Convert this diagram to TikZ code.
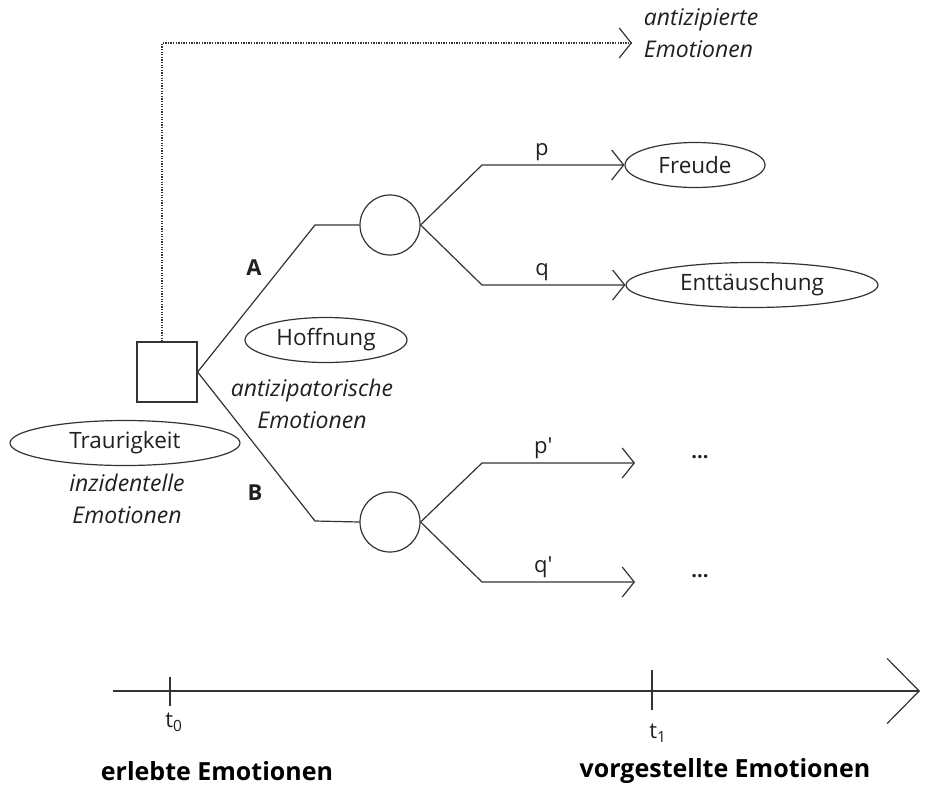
\documentclass[tikz,border=0pt]{standalone}
\usepackage{fontspec}
\setmainfont{Open Sans}
\usetikzlibrary{arrows.meta,shapes.geometric}
\definecolor{ink}{HTML}{333333}
\definecolor{txt}{HTML}{231F20}
\tikzset{
  emo/.style={draw=ink, ellipse, inner sep=0pt, minimum height=45pt, text=txt, font=\fontsize{22.5}{27}\selectfont},
  lbl/.style={text=txt, font=\fontsize{22}{26}\selectfont},
  itlbl/.style={text=txt, align=center, font=\fontsize{23}{32}\selectfont\itshape},
  bigbold/.style={text=black, font=\fontsize{25}{30}\selectfont\bfseries},
  barb/.style={-{Straight Barb[length=12pt,width=30pt]}},
}
\begin{document}
\begin{tikzpicture}[x=1pt, y=-1pt, line width=1.2pt, draw=ink]
\useasboundingbox (0,0) rectangle (928,785);
% decision and chance nodes
\node[draw=ink, minimum size=60pt, inner sep=0pt] (sq) at (167,372) {};
\node[draw=ink, circle, minimum size=60pt, inner sep=0pt] (cA) at (390,225) {};
\node[draw=ink, circle, minimum size=60pt, inner sep=0pt] (cB) at (390,522) {};
% emotions
\node[emo, minimum width=140pt] (fr) at (695,165) {Freude};
\node[emo, minimum width=252pt] (ent) at (752,285) {Enttäuschung};
\node[emo, minimum width=162pt] (hof) at (326,340) {Hoffnung};
\node[emo, minimum width=230pt] (tr) at (125,443) {Traurigkeit};
\node[itlbl] (antz) at (312,404) {antizipatorische\\Emotionen};
\node[itlbl] (inz) at (127,499) {inzidentelle\\Emotionen};
\node[itlbl, align=left, anchor=west] (ant) at (640,33) {antizipierte\\Emotionen};
\node[lbl, font=\fontsize{22}{26}\selectfont\bfseries] (lA) at (254,268) {A};
\node[lbl, font=\fontsize{22}{26}\selectfont\bfseries] (lB) at (255,493) {B};
% branches
\draw (sq.east) -- (315,225) -- (cA.west);
\draw (sq.east) -- (315,521) -- (cB.west);
\draw[barb] (cA.east) -- (482,165) -- node[lbl, above, pos=0.42] (lp) {p} (fr.west);
\draw[barb] (cA.east) -- (482,285) -- node[lbl, above, pos=0.42] (lq) {q} (ent.west);
\coordinate (eP) at (635,463);
\coordinate (eQ) at (635,582);
\draw[barb] (cB.east) -- (482,463) -- node[lbl, above, pos=0.4] (lp2) {p\textquotesingle} (eP);
\draw[barb] (cB.east) -- (482,582) -- node[lbl, above, pos=0.4] (lq2) {q\textquotesingle} (eQ);
\node[lbl, font=\fontsize{20}{24}\selectfont\bfseries] (dP) at (700,457) {...};
\node[lbl, font=\fontsize{20}{24}\selectfont\bfseries] (dQ) at (700,576) {...};
% anticipated emotions
\coordinate (aTip) at (632,43);
\draw[barb, dash pattern=on 1.3pt off 1.3pt] ([xshift=-5pt]sq.north) |- (aTip);
% time axis
\coordinate (tS) at (113,691);
\coordinate (tE) at (920,691);
\draw[-{Straight Barb[length=32pt,width=65pt]}] (tS) -- (tE);
\draw (170,677) -- (170,706);
\draw (652,670) -- (652,710);
\node[lbl] (t0) at (174,722) {t\textsubscript{0}};
\node[lbl] (t1) at (658,733) {t\textsubscript{1}};
\node[bigbold] (erl) at (217,771) {erlebte Emotionen};
\node[bigbold] (vor) at (725,771) {vorgestellte Emotionen};
\end{tikzpicture}
\end{document}
